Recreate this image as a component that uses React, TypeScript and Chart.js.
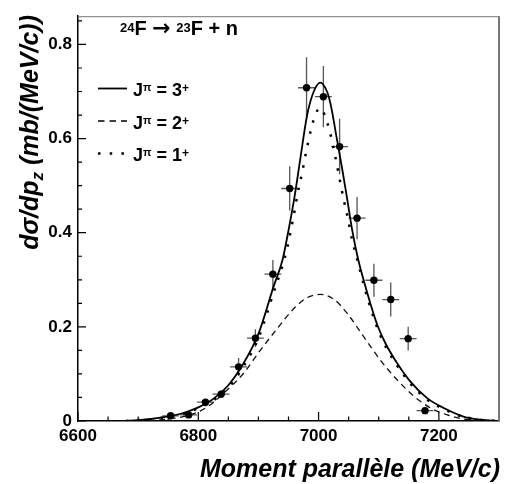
import React, { useEffect, useRef } from 'react';
import { Chart, registerables } from 'chart.js';

Chart.register(...registerables);

// Measured data points
const pointX = [6754, 6784, 6812, 6838, 6867, 6895, 6924, 6952, 6980, 7008, 7035, 7064, 7092, 7120, 7149, 7177];
const pointY = [0.011, 0.013, 0.040, 0.057, 0.115, 0.176, 0.312, 0.494, 0.708, 0.689, 0.583, 0.431, 0.299, 0.258, 0.175, 0.022];
const pointYErr = [0.004, 0.004, 0.007, 0.008, 0.019, 0.019, 0.03, 0.047, 0.065, 0.065, 0.059, 0.045, 0.035, 0.036, 0.025, 0.005];
const pointXErr = [14, 14, 14, 14, 14, 14, 14, 14, 14, 14, 14, 14, 14, 14, 14, 14];

// J = 3+ (solid)
const solidX = [6680, 6700, 6725, 6750, 6775, 6800, 6825, 6850, 6875, 6900, 6925, 6940, 6950, 6960, 6970, 6981, 6992, 7003, 7014, 7020, 7031, 7040, 7048, 7056, 7065, 7075, 7087, 7098, 7112, 7131, 7153, 7181, 7209, 7242, 7270, 7300];
const solidY = [0.000, 0.002, 0.005, 0.010, 0.017, 0.029, 0.047, 0.076, 0.122, 0.185, 0.285, 0.342, 0.405, 0.476, 0.56, 0.65, 0.70, 0.719, 0.70, 0.673, 0.595, 0.53, 0.468, 0.405, 0.348, 0.299, 0.246, 0.203, 0.163, 0.122, 0.083, 0.048, 0.027, 0.009, 0.003, 0.000];

// J = 2+ (dashed)
const dashedX = [6700, 6730, 6760, 6787, 6815, 6848, 6875, 6903, 6931, 6959, 6981, 7003, 7025, 7048, 7075, 7103, 7131, 7159, 7187, 7214, 7242, 7275, 7300];
const dashedY = [0.000, 0.002, 0.006, 0.013, 0.030, 0.066, 0.101, 0.150, 0.196, 0.239, 0.262, 0.269, 0.259, 0.228, 0.179, 0.129, 0.087, 0.052, 0.027, 0.013, 0.004, 0.000, 0.000];

// J = 1+ (dotted)
const dottedX = [6680, 6700, 6725, 6750, 6775, 6800, 6825, 6850, 6875, 6900, 6925, 6944, 6952, 6959, 6965, 6973, 6980, 6988, 6995, 7003, 7010, 7019, 7027, 7034, 7041, 7049, 7056, 7064, 7075, 7087, 7100, 7112, 7131, 7153, 7181, 7209, 7242, 7270, 7300];
const dottedY = [0.000, 0.002, 0.004, 0.009, 0.015, 0.027, 0.044, 0.071, 0.116, 0.176, 0.272, 0.348, 0.393, 0.439, 0.482, 0.53, 0.576, 0.622, 0.652, 0.665, 0.65, 0.613, 0.567, 0.521, 0.475, 0.429, 0.383, 0.345, 0.29, 0.238, 0.19, 0.157, 0.117, 0.079, 0.045, 0.025, 0.008, 0.002, 0.000];

const xMin = 6600;
const xMax = 7300;
const yMin = 0;
const yMax = 0.86;
const xMajorTicks = [6600, 6800, 7000, 7200];
const xMinorTicks = [6650, 6700, 6750, 6850, 6900, 6950, 7050, 7100, 7150, 7250];
const yMajorTicks = [0, 0.2, 0.4, 0.6, 0.8];
const yMinorTicks = [0.05, 0.1, 0.15, 0.25, 0.3, 0.35, 0.45, 0.5, 0.55, 0.65, 0.7, 0.75, 0.85];

const FONT = '"Liberation Sans", Arial, Helvetica, sans-serif';

type Seg = { t: string; size: number; dy?: number; family?: string };

function segFont(s: Seg, italic: boolean) {
  return `${italic ? 'italic ' : ''}bold ${s.size}px ${s.family || FONT}`;
}

function drawRich(ctx: CanvasRenderingContext2D, segs: Seg[], x: number, y: number, italic: boolean) {
  let cx = x;
  for (const s of segs) {
    ctx.font = segFont(s, italic);
    ctx.fillText(s.t, cx, y + (s.dy || 0));
    cx += ctx.measureText(s.t).width;
  }
  return cx;
}

function richWidth(ctx: CanvasRenderingContext2D, segs: Seg[], italic: boolean) {
  let w = 0;
  for (const s of segs) {
    ctx.font = segFont(s, italic);
    w += ctx.measureText(s.t).width;
  }
  return w;
}

const decorPlugin = {
  id: 'decor',
  beforeDatasetsDraw(chart: any) {
    const ctx = chart.ctx as CanvasRenderingContext2D;
    const xs = chart.scales.x;
    const ys = chart.scales.y;
    ctx.save();
    ctx.strokeStyle = '#555';
    ctx.lineWidth = 1.3;
    for (let i = 0; i < pointX.length; i++) {
      const px = xs.getPixelForValue(pointX[i]);
      const py = ys.getPixelForValue(pointY[i]);
      const x1 = xs.getPixelForValue(pointX[i] - pointXErr[i]);
      const x2 = xs.getPixelForValue(pointX[i] + pointXErr[i]);
      const y1 = ys.getPixelForValue(pointY[i] - pointYErr[i]);
      const y2 = ys.getPixelForValue(pointY[i] + pointYErr[i]);
      ctx.beginPath();
      ctx.moveTo(x1, py);
      ctx.lineTo(x2, py);
      ctx.moveTo(px, y1);
      ctx.lineTo(px, y2);
      ctx.stroke();
    }
    ctx.restore();
  },
  afterDraw(chart: any) {
    const ctx = chart.ctx as CanvasRenderingContext2D;
    const xs = chart.scales.x;
    const ys = chart.scales.y;
    const a = chart.chartArea;
    ctx.save();
    // frame top/right
    ctx.strokeStyle = '#777';
    ctx.lineWidth = 1;
    ctx.beginPath();
    ctx.moveTo(a.left, a.top + 0.5);
    ctx.lineTo(a.right, a.top + 0.5);
    ctx.stroke();
    ctx.lineWidth = 2;
    ctx.beginPath();
    ctx.moveTo(a.right, a.top);
    ctx.lineTo(a.right, a.bottom);
    ctx.stroke();

    // inward ticks
    ctx.strokeStyle = '#000';
    ctx.lineWidth = 1.2;
    ctx.beginPath();
    for (const v of xMajorTicks) {
      const p = xs.getPixelForValue(v);
      ctx.moveTo(p, a.bottom);
      ctx.lineTo(p, a.bottom - 9);
    }
    for (const v of xMinorTicks) {
      const p = xs.getPixelForValue(v);
      ctx.moveTo(p, a.bottom);
      ctx.lineTo(p, a.bottom - 4.5);
    }
    for (const v of yMajorTicks) {
      const p = ys.getPixelForValue(v);
      ctx.moveTo(a.left, p);
      ctx.lineTo(a.left + 8, p);
    }
    for (const v of yMinorTicks) {
      const p = ys.getPixelForValue(v);
      ctx.moveTo(a.left, p);
      ctx.lineTo(a.left + 4, p);
    }
    ctx.stroke();

    ctx.fillStyle = '#000';
    ctx.textBaseline = 'alphabetic';
    ctx.textAlign = 'left';

    // x title
    ctx.font = `italic bold 25px ${FONT}`;
    ctx.textAlign = 'right';
    ctx.fillText('Moment parall\u00e8le (MeV/c)', 500, 477);
    ctx.textAlign = 'left';

    // y title (rotated)
    const ySegs: Seg[] = [
      { t: 'd\u03c3/dp', size: 25 },
      { t: 'z', size: 17, dy: 5 },
      { t: ' (mb/(MeV/c))', size: 25 },
    ];
    const yw = richWidth(ctx, ySegs, true);
    ctx.save();
    ctx.translate(38, 15);
    ctx.rotate(-Math.PI / 2);
    drawRich(ctx, ySegs, -yw, 0, true);
    ctx.restore();

    // reaction annotation
    drawRich(ctx, [
      { t: '24', size: 13, dy: -3 },
      { t: 'F ', size: 20 },
      { t: '\u2192', size: 22, family: '"DejaVu Sans", sans-serif', dy: 0 },
      { t: ' ', size: 20 },
      { t: '23', size: 13, dy: -3 },
      { t: 'F + n', size: 20 },
    ], 120, 35, false);

    // legend
    const rows = [
      { label: '3', dash: [] as number[], width: 1.8 },
      { label: '2', dash: [6.5, 5], width: 1.3 },
      { label: '1', dash: [2.5, 9.2], width: 2.5 },
    ];
    rows.forEach((r, i) => {
      const base = 96 + i * 32.5;
      const ly = base - 7.5;
      ctx.save();
      ctx.strokeStyle = '#000';
      ctx.lineWidth = r.width;
      ctx.lineCap = 'butt';
      ctx.setLineDash(r.dash);
      ctx.beginPath();
      ctx.moveTo(98, ly);
      ctx.lineTo(127, ly);
      ctx.stroke();
      ctx.restore();
      drawRich(ctx, [
        { t: 'J', size: 18 },
        { t: '\u03c0', size: 11, dy: -5 },
        { t: ' = ' + r.label, size: 18 },
        { t: '+', size: 12, dy: -4 },
      ], 133, base, false);
    });
    ctx.restore();
  },
};

export default function App() {
  const ref = useRef<HTMLCanvasElement | null>(null);
  useEffect(() => {
    document.body.style.margin = '0';
    const canvas = ref.current;
    if (!canvas) return;
    const toXY = (xs: number[], ys: number[]) => xs.map((x, i) => ({ x, y: ys[i] }));
    const chart = new Chart(canvas, {
      type: 'scatter',
      data: {
        datasets: [
          {
            label: 'data',
            data: toXY(pointX, pointY),
            showLine: false,
            pointRadius: 3.7,
            pointBackgroundColor: '#000',
            pointBorderWidth: 0,
            order: 0,
          },
          {
            label: 'J=3+',
            data: toXY(solidX, solidY),
            showLine: true,
            pointRadius: 0,
            borderColor: '#000',
            borderWidth: 1.8,
            cubicInterpolationMode: 'monotone',
            order: 1,
          },
          {
            label: 'J=2+',
            data: toXY(dashedX, dashedY),
            showLine: true,
            pointRadius: 0,
            borderColor: '#111',
            borderWidth: 1.3,
            borderDash: [6, 4.5],
            cubicInterpolationMode: 'monotone',
            order: 2,
          },
          {
            label: 'J=1+',
            data: toXY(dottedX, dottedY),
            showLine: true,
            pointRadius: 0,
            borderColor: '#000',
            borderWidth: 2.5,
            borderDash: [2.5, 9],
            cubicInterpolationMode: 'monotone',
            order: 3,
          },
        ],
      } as any,
      options: {
        responsive: false,
        animation: false,
        devicePixelRatio: 1,
        layout: { padding: { top: 15, right: 6, left: 0, bottom: 0 } },
        plugins: {
          legend: { display: false },
          tooltip: { enabled: false },
        },
        scales: {
          x: {
            type: 'linear',
            min: xMin,
            max: xMax,
            afterFit: (s: any) => { s.height = 63; },
            grid: { display: false, drawTicks: false },
            border: { display: true, color: '#000', width: 1.5 },
            ticks: {
              stepSize: 50,
              autoSkip: false,
              maxRotation: 0,
              padding: 5,
              color: '#000',
              font: { family: FONT, size: 17, weight: 'bold' },
              callback: (v: any) => (xMajorTicks.includes(Number(v)) ? String(v) : ''),
            },
          },
          y: {
            type: 'linear',
            min: yMin,
            max: yMax,
            afterFit: (s: any) => { s.width = 78; },
            grid: { display: false, drawTicks: false },
            border: { display: true, color: '#000', width: 1.5 },
            ticks: {
              stepSize: 0.05,
              autoSkip: false,
              padding: 6,
              color: '#000',
              font: { family: FONT, size: 17, weight: 'bold' },
              callback: (v: any) => {
                const n = Number(v);
                const m = yMajorTicks.find((t) => Math.abs(t - n) < 1e-6);
                return m === undefined ? '' : (m === 0 ? '0' : m.toFixed(1));
              },
            },
          },
        },
      } as any,
      plugins: [decorPlugin],
    });
    return () => chart.destroy();
  }, []);
  return (
    <canvas ref={ref} width={505} height={484} style={{ display: 'block', width: 505, height: 484 }} />
  );
}
